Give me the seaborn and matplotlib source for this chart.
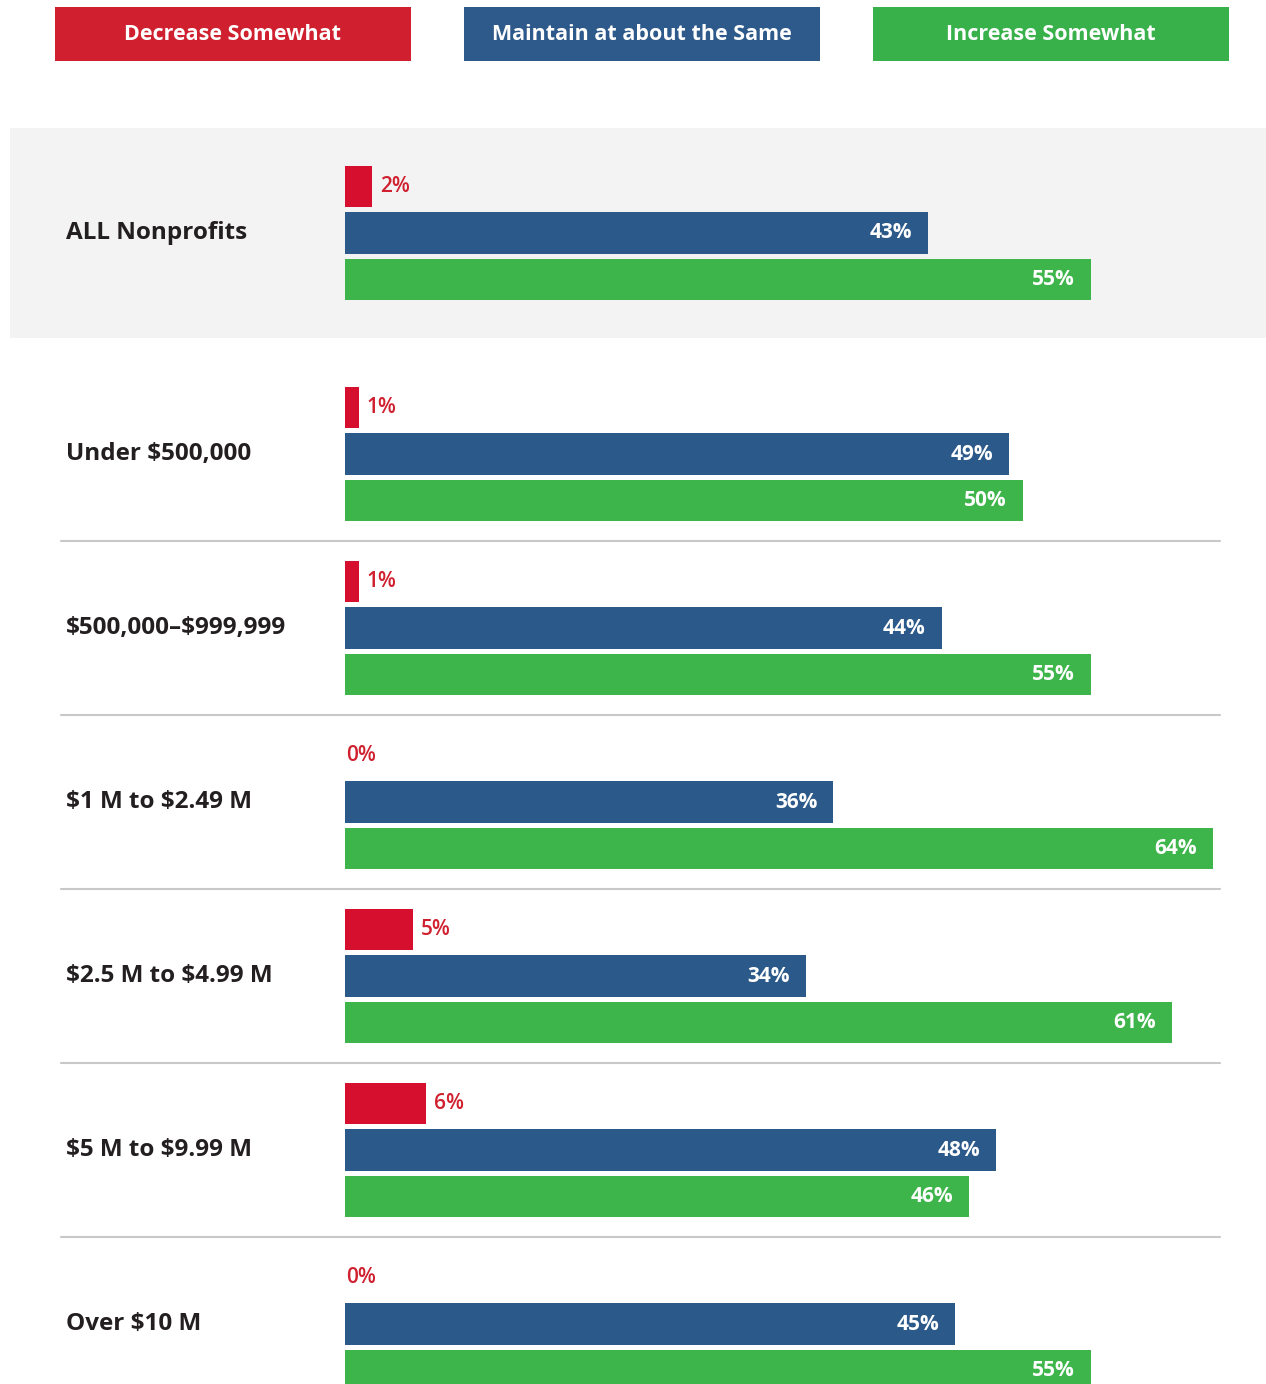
import pandas as pd
import matplotlib.pyplot as plt
import seaborn as sns
from matplotlib.patches import Rectangle

groups = ["ALL Nonprofits", "Under $500,000", "$500,000–$999,999", "$1 M to $2.49 M",
          "$2.5 M to $4.99 M", "$5 M to $9.99 M", "Over $10 M"]
decrease = [2, 1, 1, 0, 5, 6, 0]
maintain = [43, 49, 44, 36, 34, 48, 45]
increase = [55, 50, 55, 64, 61, 46, 55]
responses = ["Decrease Somewhat", "Maintain at about the Same", "Increase Somewhat"]

bar_colors = ["#d50f2d", "#2b5989", "#3db54a"]
legend_colors = ["#d0202f", "#2d5a8a", "#38b14b"]

df = pd.DataFrame({"group": groups, responses[0]: decrease,
                   responses[1]: maintain, responses[2]: increase})
long = df.melt(id_vars="group", var_name="response", value_name="pct")

sns.set_style("white")
plt.rcParams["font.family"] = ["Open Sans", "DejaVu Sans"]
plt.rcParams["text.parse_math"] = False

W, H = 1266, 1384
fig = plt.figure(figsize=(W / 100, H / 100), dpi=100)
px = 13.56  # pixels per percent

# top panel: ALL Nonprofits on grey band
ax_top = fig.add_axes([10 / W, 1 - 338 / H, 1256 / W, 210 / H])
# lower panel: budget sizes
ax_bot = fig.add_axes([0, 0, 1, (H - 367) / H])

panels = [(ax_top, groups[:1], (10 - 345) / px, (0.603, -0.603)),
          (ax_bot, groups[1:], -345 / px, ((H - 454) / 174, -0.5))]

for ax, grp, x0, ylim in panels:
    sub = long[long["group"].isin(grp)]
    sns.barplot(data=sub, y="group", x="pct", hue="response", hue_order=responses,
                order=grp, orient="h", palette=bar_colors, gap=0.1, legend=False,
                saturation=1, linewidth=0, ax=ax)
    ax.set_xlim(x0, (W - 345) / px)
    ax.set_ylim(*ylim)
    ax.set_facecolor("#f3f3f3" if ax is ax_top else "white")
    for s in ax.spines.values():
        s.set_visible(False)
    ax.set_xticks([])
    ax.set_yticks([])
    ax.set_xlabel("")
    ax.set_ylabel("")

    for k, cont in enumerate(ax.containers):
        for bar in cont:
            w = bar.get_width()
            yc = bar.get_y() + bar.get_height() / 2
            if k == 0:
                ax.annotate(f"{w:.0f}%", (w, yc), xytext=(8 if w > 0 else 1, 0),
                            textcoords="offset pixels", ha="left", va="center",
                            color="#d0202f", fontsize=15, fontweight="semibold")
            else:
                ax.annotate(f"{w:.0f}%", (w, yc), xytext=(-16, 0),
                            textcoords="offset pixels", ha="right", va="center",
                            color="white", fontsize=15, fontweight="bold")

    for i, g in enumerate(grp):
        ax.text((66 - 345) / px, i, g, ha="left", va="center", fontsize=17.5,
                fontweight="bold", color="#231f20")

# separators between lower groups
for i in range(len(groups) - 2):
    ax_bot.plot([(61 - 345) / px, (1220 - 345) / px], [i + 0.5, i + 0.5],
                color="#c8c8c8", lw=1.5)

# legend boxes
box_x = [55, 464, 873]
for x, lab, c in zip(box_x, responses, legend_colors):
    fig.add_artist(Rectangle((x / W, 1 - 61 / H), 356 / W, 54 / H,
                             transform=fig.transFigure, color=c, lw=0))
    fig.text((x + 178) / W, 1 - 35 / H, lab, ha="center", va="center",
             color="white", fontsize=15.5, fontweight="bold")

fig.savefig("out.png", dpi=100)
